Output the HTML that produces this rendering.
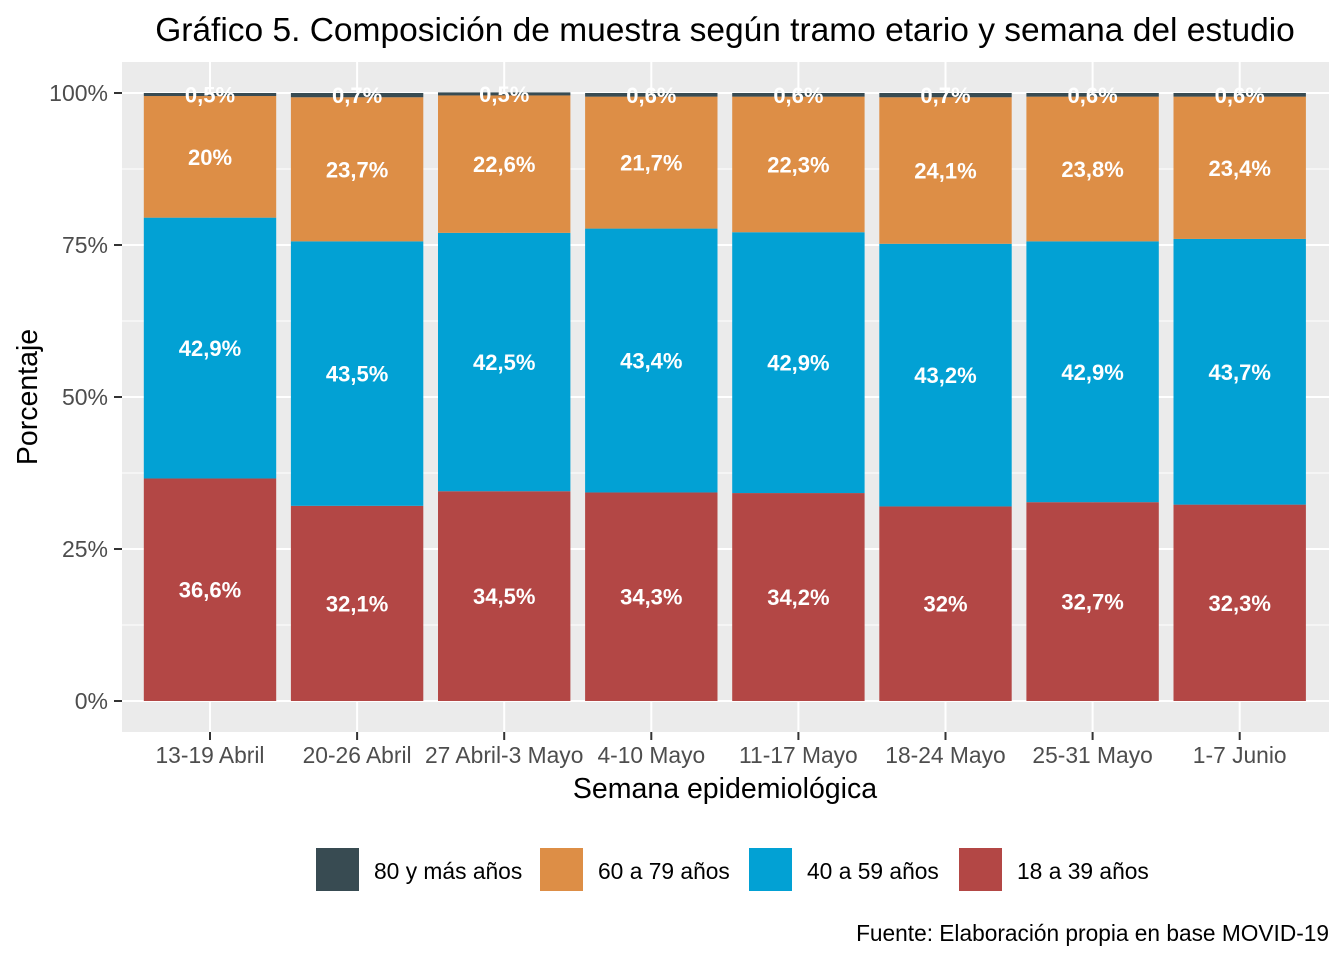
<!DOCTYPE html>
<html><head><meta charset="utf-8"><style>
body{margin:0;background:#fff;}
svg{display:block;font-family:"Liberation Sans",Arial,sans-serif;}
</style></head><body>
<svg id="chart" width="1344" height="960">
<rect x="0" y="0" width="1344" height="960" fill="#fff"/>
<text x="725" y="41" font-size="33.5" text-anchor="middle" fill="#000">Gráfico 5. Composición de muestra según tramo etario y semana del estudio</text>
<rect x="122" y="62" width="1207" height="670" fill="#ebebeb"/>
<g id="grid"></g>
<g id="bars"></g>
<g id="axes"></g>
<text x="725" y="798" font-size="28.5" text-anchor="middle">Semana epidemiológica</text>
<text transform="translate(37,397) rotate(-90)" font-size="28.5" text-anchor="middle">Porcentaje</text>
<g id="legend"></g>
<text x="1329" y="941" font-size="22.7" text-anchor="end">Fuente: Elaboración propia en base MOVID-19</text>
</svg>
<script>
const categories=["13-19 Abril","20-26 Abril","27 Abril-3 Mayo","4-10 Mayo","11-17 Mayo","18-24 Mayo","25-31 Mayo","1-7 Junio"];
const s18=[36.6,32.1,34.5,34.3,34.2,32,32.7,32.3];
const s40=[42.9,43.5,42.5,43.4,42.9,43.2,42.9,43.7];
const s60=[20,23.7,22.6,21.7,22.3,24.1,23.8,23.4];
const s80=[0.5,0.7,0.5,0.6,0.6,0.7,0.6,0.6];
const yTicks=[0,25,50,75,100];
const seriesNames=["18 a 39 años","40 a 59 años","60 a 79 años","80 y más años"];
const colors=["#b34745","#02a1d4","#dd8e46","#384b52"];
const NS="http://www.w3.org/2000/svg";
const px0=122,px1=1329,y0=701,y100=93;
const bw=147.1*0.9;
function xs(i){return 210+i*147.1;}
function ys(v){return y0-(y0-y100)*v/100;}
function mk(tag,attrs,parent){const e=document.createElementNS(NS,tag);for(const k in attrs)e.setAttribute(k,attrs[k]);parent.appendChild(e);return e;}
const grid=document.getElementById('grid'),bars=document.getElementById('bars'),axes=document.getElementById('axes'),legend=document.getElementById('legend');
for(let t=0;t<4;t++){const v=yTicks[t]+12.5;const l=mk('line',{x1:px0,x2:px1,y1:ys(v),y2:ys(v),stroke:'#fff','stroke-width':1},grid);

}
yTicks.forEach(v=>{const l=mk('line',{x1:px0,x2:px1,y1:ys(v),y2:ys(v),stroke:'#fff','stroke-width':2},grid);


const tk=mk('line',{x1:114,x2:122,y1:ys(v),y2:ys(v),stroke:'#333','stroke-width':2},axes);


const tx=mk('text',{x:108,y:ys(v)+8,'font-size':23,'text-anchor':'end',fill:'#4d4d4d'},axes);tx.textContent=v+'%';

});
categories.forEach((c,i)=>{const x=xs(i);
const g=mk('line',{x1:x,x2:x,y1:62,y2:732,stroke:'#fff','stroke-width':2},grid);


const tk=mk('line',{x1:x,x2:x,y1:732,y2:740,stroke:'#333','stroke-width':2},axes);


const tx=mk('text',{x:x,y:763,'font-size':22.8,'text-anchor':'middle',fill:'#4d4d4d'},axes);tx.textContent=c;


const vals=[s18[i],s40[i],s60[i],s80[i]];let cum=0;
vals.forEach((v,k)=>{const r=mk('rect',{x:x-bw/2,y:ys(cum+v),width:bw,height:ys(cum)-ys(cum+v),fill:colors[k]},bars);


const lbl=mk('text',{x:x,y:ys(cum+v/2)+8,'font-size':22,'font-weight':'bold','text-anchor':'middle',fill:'#fff'},bars);
lbl.textContent=String(v).replace('.',',')+'%';


cum+=v;});});
const legX=[316,540,749,959];
[3,2,1,0].forEach((k,j)=>{const r=mk('rect',{x:legX[j],y:848,width:43,height:43,fill:colors[k]},legend);


const t=mk('text',{x:legX[j]+58,y:879,'font-size':22.8},legend);t.textContent=seriesNames[k];

});
</script>
</body></html>
